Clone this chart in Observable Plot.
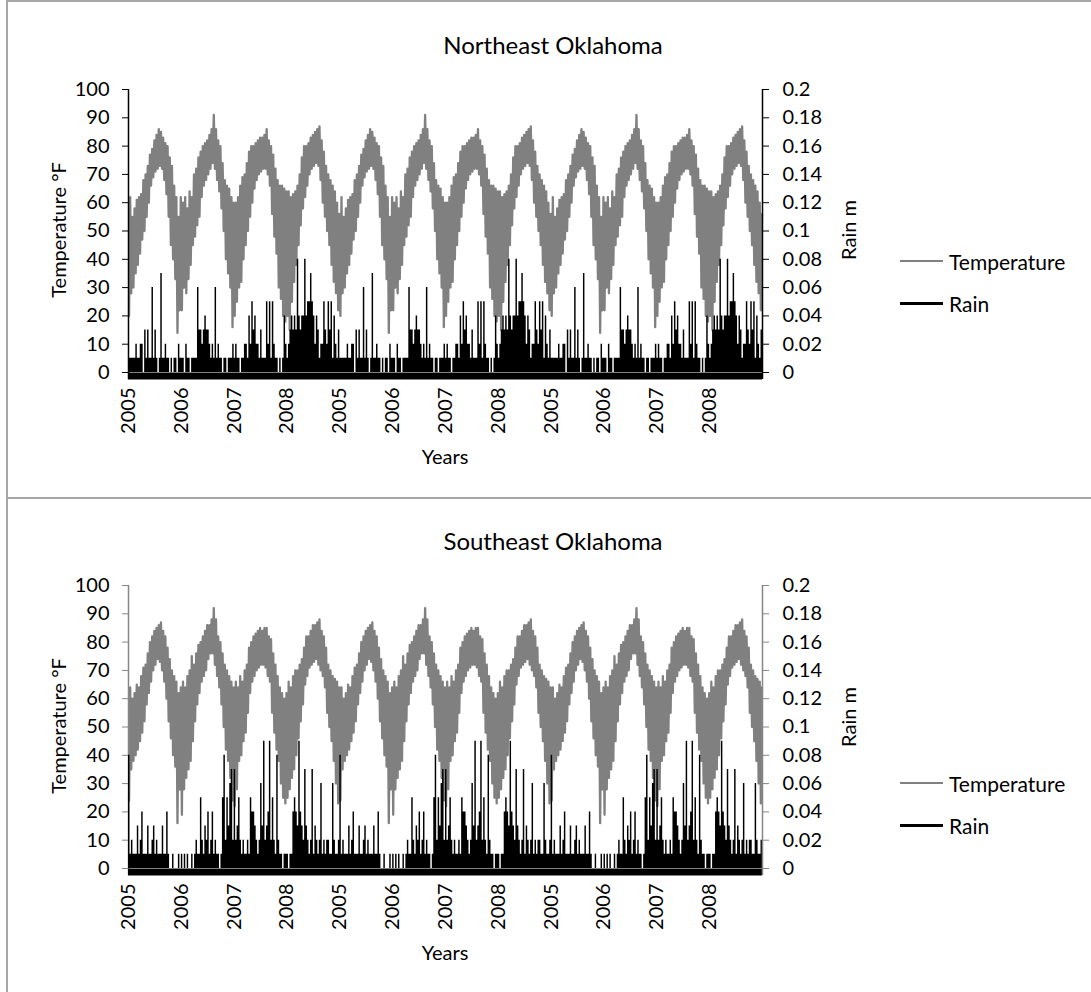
<!DOCTYPE html>
<html>
<head>
<meta charset="utf-8">
<script src="https://cdn.jsdelivr.net/npm/d3@7"></script>
<script src="https://cdn.jsdelivr.net/npm/@observablehq/plot@0.6"></script>
<style>
  html, body { margin: 0; padding: 0; background: #fff; }
  body { width: 1091px; height: 992px; position: relative; overflow: hidden; font-family: Lato, "Open Sans", sans-serif; }
  .box { position: absolute; box-sizing: border-box; border: 0 solid #a6a6a6; }
  .layer { position: absolute; left: 0; }
  .txt { position: absolute; white-space: nowrap; line-height: 1; color: #000; transform: translate(-50%, -50%); }
  .rot { transform: translate(-50%, -50%) rotate(-90deg); }
  .key { position: absolute; width: 43px; }
</style>
</head>
<body>
<script>
// Year labels along the time axis; the 2005–2008 record is shown three times in a row.
const yearLabels = ["2005", "2006", "2007", "2008"];
const repeats = 3;
const tempTicks = [0, 10, 20, 30, 40, 50, 60, 70, 80, 90, 100];
const rainTicks = [0, 0.02, 0.04, 0.06, 0.08, 0.1, 0.12, 0.14, 0.16, 0.18, 0.2];
const tempPerYear = 24;  // half-month daily low / high envelope, °F
const rainPerYear = 36;  // ~10-day rainfall peaks, m

// Northeast Oklahoma
const neTempLow = [
  20, 28, 30, 35, 38, 42, 47, 50, 55, 60, 66, 69, 71, 72, 73, 72, 68, 63, 55, 45, 40, 33, 14, 22,
  22, 30, 28, 33, 38, 45, 48, 52, 55, 62, 66, 68, 70, 72, 74, 72, 68, 64, 58, 50, 40, 35, 30, 16,
  20, 25, 30, 32, 40, 45, 50, 55, 60, 65, 68, 70, 71, 72, 72, 70, 66, 56, 48, 42, 30, 26, 20, 18,
  20, 15, 25, 32, 38, 45, 52, 58, 62, 66, 70, 72, 73, 74, 73, 68, 60, 55, 50, 45, 38, 32, 28, 22
];
const neTempHigh = [
  62, 55, 58, 61, 62, 63, 68, 70, 73, 77, 79, 82, 84, 86, 85, 83, 81, 80, 76, 73, 66, 62, 55, 62,
  60, 62, 58, 64, 62, 70, 72, 76, 78, 80, 81, 82, 84, 86, 91, 86, 82, 80, 74, 68, 66, 65, 62, 60,
  60, 62, 66, 69, 70, 74, 78, 80, 80, 81, 82, 83, 83, 84, 86, 82, 80, 77, 72, 68, 66, 66, 65, 64,
  64, 62, 63, 64, 66, 70, 76, 80, 80, 81, 83, 84, 85, 86, 87, 82, 78, 73, 70, 68, 66, 64, 60, 56
];
const neRain = [
  0.01, 0.01, 0.01, 0.01, 0.01, 0.02, 0.01, 0.01, 0.02, 0.02, 0, 0.03, 0.01, 0.03, 0.01, 0.01, 0.06, 0.01,
  0.03, 0.01, 0, 0.01, 0.07, 0.01, 0.01, 0.02, 0.01, 0.01, 0, 0.01, 0, 0.01, 0.01, 0, 0.02, 0.01,
  0.01, 0.01, 0, 0.02, 0.01, 0.01, 0, 0.01, 0.01, 0.01, 0.01, 0.06, 0.03, 0.03, 0.02, 0.03, 0.04, 0.03,
  0.03, 0.02, 0.01, 0.02, 0.01, 0.06, 0.01, 0.02, 0.01, 0.01, 0, 0.01, 0.01, 0, 0.01, 0.01, 0.01, 0.02,
  0.01, 0.02, 0.01, 0.01, 0, 0.01, 0.01, 0.02, 0.02, 0.01, 0.04, 0.02, 0.05, 0.03, 0.04, 0.02, 0.02, 0.01,
  0.03, 0.01, 0.01, 0.01, 0.05, 0.02, 0.05, 0.01, 0.05, 0.02, 0.01, 0.01, 0, 0.01, 0, 0.01, 0.04, 0.02,
  0.01, 0.02, 0.03, 0.04, 0.03, 0.04, 0.03, 0.08, 0.04, 0.03, 0.04, 0.04, 0.08, 0.04, 0.05, 0.05, 0.07, 0.05,
  0.04, 0.02, 0.04, 0.03, 0.01, 0.02, 0.02, 0.05, 0.03, 0.02, 0.05, 0.03, 0.05, 0.01, 0.04, 0.02, 0.01, 0.03
];

// Southeast Oklahoma
const seTempLow = [
  24, 35, 38, 40, 42, 45, 48, 52, 58, 62, 66, 70, 72, 74, 73, 70, 66, 60, 52, 46, 40, 36, 16, 28,
  19, 28, 32, 35, 38, 45, 52, 58, 62, 66, 68, 70, 74, 76, 76, 72, 68, 64, 58, 50, 42, 38, 32, 24,
  22, 28, 38, 40, 45, 48, 55, 62, 66, 68, 70, 71, 72, 72, 71, 68, 66, 55, 48, 42, 38, 30, 25, 23,
  25, 28, 32, 35, 40, 46, 52, 58, 65, 68, 71, 72, 73, 74, 72, 70, 68, 64, 55, 50, 45, 38, 30, 23
];
const seTempHigh = [
  64, 60, 62, 65, 64, 68, 71, 72, 76, 80, 82, 84, 85, 86, 87, 84, 82, 78, 74, 70, 68, 66, 62, 64,
  66, 64, 68, 70, 75, 72, 76, 79, 80, 82, 84, 86, 86, 88, 92, 88, 82, 80, 76, 72, 70, 68, 66, 64,
  66, 64, 68, 66, 70, 72, 78, 80, 82, 83, 84, 85, 84, 85, 85, 82, 81, 76, 72, 68, 64, 62, 60, 62,
  66, 64, 68, 70, 70, 72, 74, 78, 82, 82, 84, 86, 86, 87, 88, 84, 82, 78, 72, 70, 68, 67, 66, 64
];
const seRain = [
  0.08, 0.01, 0.02, 0.01, 0.01, 0.01, 0.03, 0.01, 0.02, 0.04, 0.01, 0.01, 0.01, 0.03, 0.01, 0.01, 0.02, 0.03,
  0.01, 0.02, 0.01, 0.01, 0.01, 0.03, 0.01, 0.01, 0.04, 0.01, 0, 0, 0.01, 0, 0, 0, 0.01, 0,
  0.01, 0, 0.01, 0, 0.01, 0, 0, 0.01, 0, 0.01, 0.02, 0.01, 0.01, 0.05, 0.02, 0.01, 0.03, 0.02,
  0.04, 0.01, 0.02, 0.04, 0.01, 0.02, 0.01, 0.01, 0, 0.01, 0.05, 0.08, 0.02, 0.05, 0.03, 0.06, 0.07, 0.02,
  0.07, 0.02, 0.03, 0.05, 0.02, 0.01, 0.02, 0.01, 0.01, 0.02, 0.01, 0.05, 0.04, 0.04, 0.03, 0.02, 0.01, 0.02,
  0.06, 0.03, 0.09, 0.02, 0.03, 0.04, 0.09, 0.02, 0.05, 0.02, 0.01, 0.08, 0.02, 0.01, 0.01, 0, 0.01, 0.01,
  0.01, 0, 0.01, 0.01, 0.04, 0.05, 0.04, 0.03, 0.09, 0.04, 0.03, 0.02, 0.07, 0.03, 0.02, 0.01, 0.02, 0.07,
  0.01, 0.03, 0.02, 0.01, 0.02, 0.06, 0.01, 0.02, 0.01, 0.02, 0.02, 0.01, 0.01, 0.06, 0.02, 0.01, 0.01, 0.02
];

const nYears = yearLabels.length * repeats;
const W = 1091, H = 496;
const frame = {marginLeft: 128, marginRight: 329, marginTop: 89, marginBottom: 124};
const fontFamily = 'Lato, "Open Sans", sans-serif';

// Temperature is drawn as one line stepping between each period's low and high.
function tempPoints(low, high) {
  const pts = [];
  for (let r = 0; r < repeats; r++) {
    low.forEach((lo, i) => {
      const t0 = r * yearLabels.length + i / tempPerYear;
      pts.push({t: t0 + 0.25 / tempPerYear, v: lo});
      pts.push({t: t0 + 0.75 / tempPerYear, v: high[i]});
    });
  }
  return pts;
}

// Rain periods as steps: each period holds its peak until the next one starts.
function rainSteps(rain) {
  const pts = [];
  for (let r = 0; r < repeats; r++) {
    rain.forEach((v, i) => pts.push({t: r * yearLabels.length + i / rainPerYear, v}));
  }
  pts.push({t: nYears, v: rain[rain.length - 1]});
  return pts;
}

function addText(text, x, y, size, rotated, anchorLeft) {
  const d = document.createElement("div");
  d.className = rotated ? "txt rot" : "txt";
  d.textContent = text;
  d.style.left = x + "px";
  d.style.top = y + "px";
  d.style.fontSize = size + "px";
  if (anchorLeft) d.style.transform = "translate(0, -50%)";
  document.body.appendChild(d);
}

function addKey(color, x, y, thickness) {
  const k = document.createElement("div");
  k.className = "key";
  k.style.left = x + "px";
  k.style.top = (y - thickness / 2) + "px";
  k.style.height = thickness + "px";
  k.style.background = color;
  document.body.appendChild(k);
}

function addBox(css) {
  const b = document.createElement("div");
  b.className = "box";
  Object.assign(b.style, css);
  document.body.appendChild(b);
}

function panel(cfg) {
  const style = {background: "transparent", fontFamily, fontSize: "20px", color: "#000", overflow: "visible"};

  const tempChart = Plot.plot({
    width: W, height: H, ...frame, style,
    x: {domain: [0, nYears]},
    y: {domain: [0, 100]},
    marks: [
      Plot.line(tempPoints(cfg.low, cfg.high), {x: "t", y: "v", stroke: "#808080", strokeWidth: 2.3}),
      Plot.axisY(tempTicks, {tickSize: 6, tickPadding: 13, stroke: cfg.axis, label: null}),
      Plot.axisX(d3.range(nYears), {
        tickSize: 0, tickPadding: 15, tickRotate: -90, label: null,
        tickFormat: (i) => yearLabels[i % yearLabels.length]
      }),
      Plot.ruleX([0], {stroke: cfg.axis, strokeWidth: 1.5, insetBottom: -7})
    ]
  });

  const rainChart = Plot.plot({
    width: W, height: H, ...frame, style,
    x: {domain: [0, nYears], axis: null},
    y: {domain: [0, 0.2]},
    marks: [
      Plot.areaY(rainSteps(cfg.rain), {x: "t", y: "v", curve: "step-after", fill: "#000"}),
      Plot.ruleY([0], {stroke: "#000", strokeWidth: 7, dy: 3.5}),
      Plot.axisY(rainTicks, {
        anchor: "right", tickSize: 6, tickPadding: 14, stroke: cfg.axis, label: null,
        tickFormat: d3.format("~g")
      }),
      Plot.ruleX([nYears], {stroke: cfg.axis, strokeWidth: 1.5, insetBottom: -7})
    ]
  });

  for (const chart of [tempChart, rainChart]) {
    chart.classList.add("layer");
    chart.style.top = cfg.top + "px";
    document.body.appendChild(chart);
  }

  addText(cfg.title, 553, cfg.top + 45, 24, false);
  addText("Temperature °F", 58, cfg.top + 230, 20, true);
  addText(cfg.rainLabel, 848, cfg.top + cfg.rainLabelY, 20, true);
  addText("Years", 445, cfg.top + 456, 20, false);

  addKey("#808080", 900, cfg.keyY, 2);
  addKey("#000", 900, cfg.keyY + 42, 3);
  addText("Temperature", 949, cfg.keyY, 21, false, true);
  addText("Rain", 949, cfg.keyY + 42, 21, false, true);
}

// Chart area frames
addBox({left: "6px", top: "0px", width: "1090px", height: "499px", borderLeftWidth: "2px", borderTopWidth: "2px", borderBottomWidth: "2px"});
addBox({left: "6px", top: "499px", width: "1090px", height: "500px", borderLeftWidth: "2px"});

panel({title: "Northeast Oklahoma", top: 0, low: neTempLow, high: neTempHigh, rain: neRain,
       axis: "#000", rainLabel: "Rain m", rainLabelY: 230, keyY: 261});
panel({title: "Southeast Oklahoma", top: 496, low: seTempLow, high: seTempHigh, rain: seRain,
       axis: "#868686", rainLabel: "Rain  m", rainLabelY: 221, keyY: 783});
</script>
</body>
</html>
